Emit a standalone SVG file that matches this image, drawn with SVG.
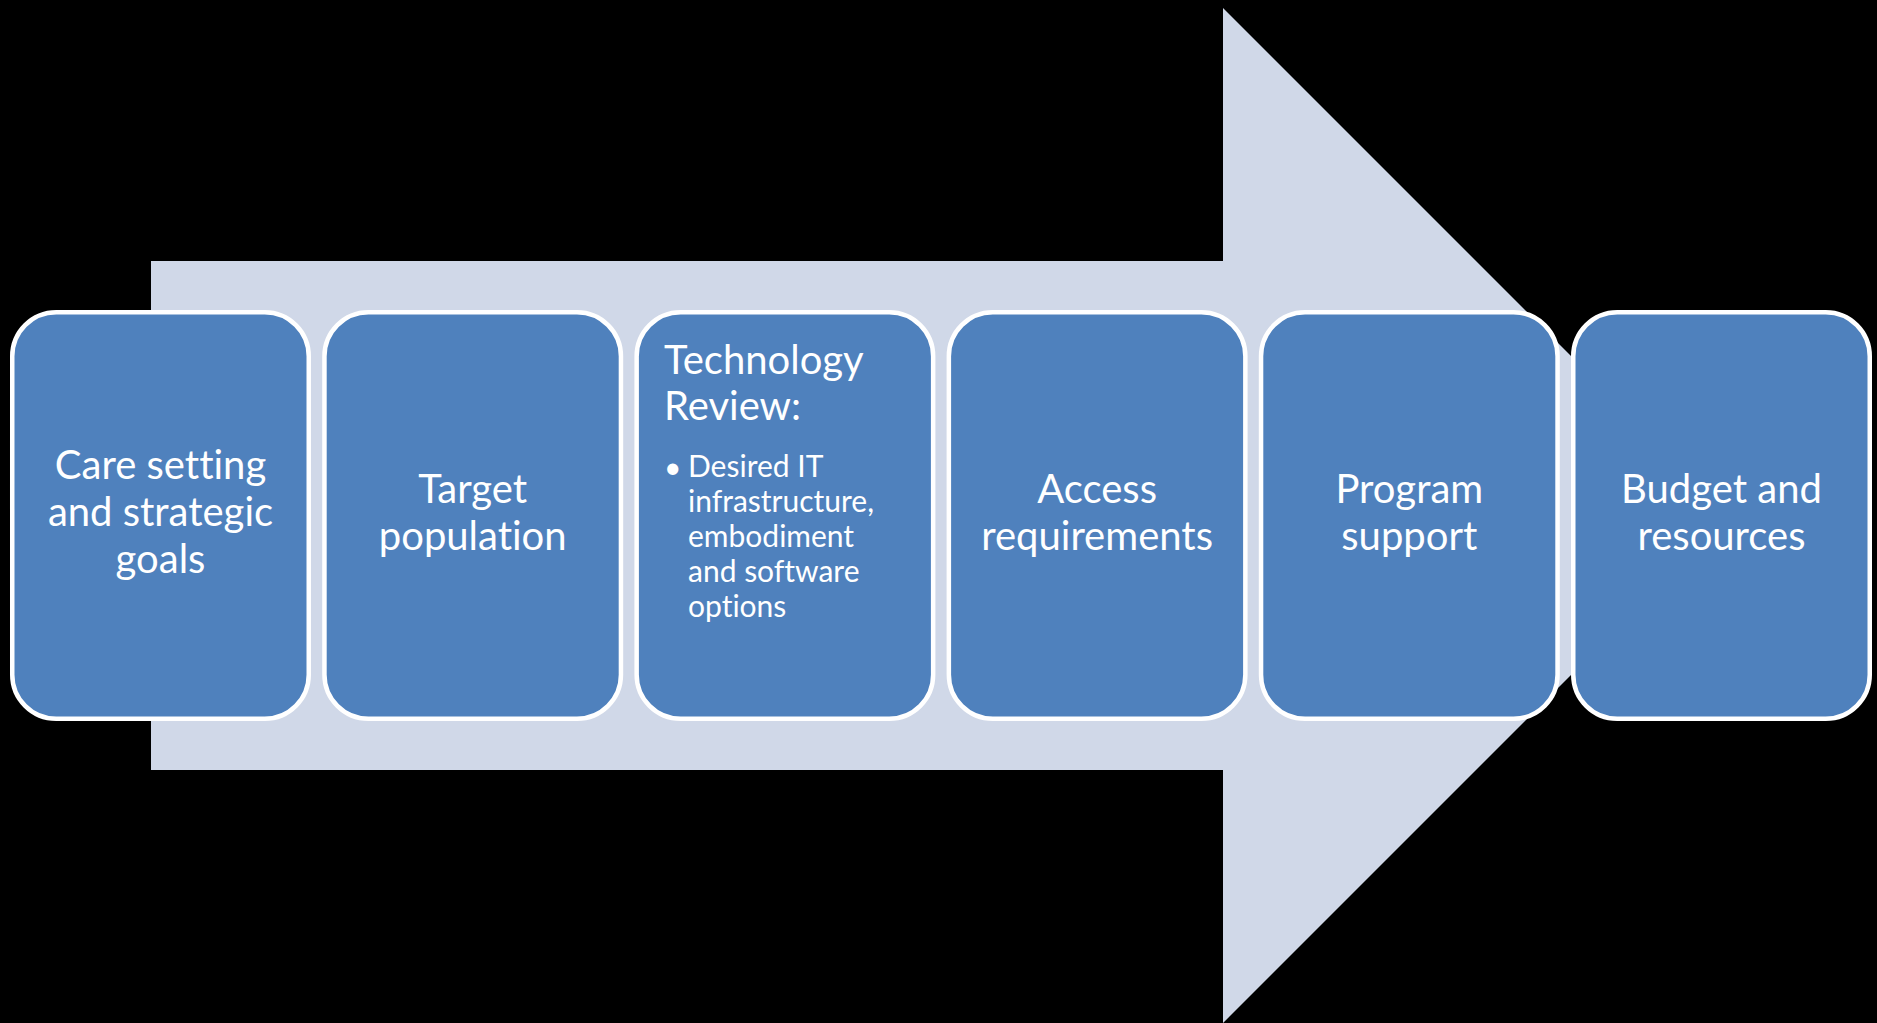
<svg xmlns="http://www.w3.org/2000/svg" width="1877" height="1023" viewBox="0 0 1877 1023">
<style>
.box{fill:#4F81BD;stroke:#FFFFFF;stroke-width:4.5}
.t{font-family:Lato,"Open Sans","Liberation Sans",sans-serif;fill:#FFFFFF;font-size:40px;font-variant-ligatures:none}
.c{text-anchor:middle}
.s{font-size:30px}
</style>
<rect x="0" y="0" width="1877" height="1023" fill="#000000"/>
<g id="arrow">
<polygon points="151,261 1223,261 1223,8 1730.5,515.5 1223,1023 1223,770 151,770" fill="#D0D8E8"/>
</g>
<g id="connectors"></g>
<g id="node1">
<rect class="box" x="12.25" y="312.25" width="296.5" height="406.5" rx="44"/>
<text class="t c" x="160.5" y="479">Care setting</text>
<text class="t c" x="160.5" y="526">and strategic</text>
<text class="t c" x="160.5" y="573">goals</text>
</g>
<g id="node2">
<rect class="box" x="324.45" y="312.25" width="296.5" height="406.5" rx="44"/>
<text class="t c" x="472.7" y="503">Target</text>
<text class="t c" x="472.7" y="550">population</text>
</g>
<g id="node3">
<rect class="box" x="636.65" y="312.25" width="296.5" height="406.5" rx="44"/>
<text class="t" x="664" y="374">Technology</text>
<text class="t" x="664" y="420">Review:</text>
<text class="t s" x="664" y="478" font-size="34px">•</text>
<text class="t s" x="688" y="477">Desired IT</text>
<text class="t s" x="688" y="512">infrastructure,</text>
<text class="t s" x="688" y="547">embodiment</text>
<text class="t s" x="688" y="582">and software</text>
<text class="t s" x="688" y="617">options</text>
</g>
<g id="node4">
<rect class="box" x="948.85" y="312.25" width="296.5" height="406.5" rx="44"/>
<text class="t c" x="1097.1" y="503">Access</text>
<text class="t c" x="1097.1" y="550">requirements</text>
</g>
<g id="node5">
<rect class="box" x="1261.05" y="312.25" width="296.5" height="406.5" rx="44"/>
<text class="t c" x="1409.3" y="503">Program</text>
<text class="t c" x="1409.3" y="550">support</text>
</g>
<g id="node6">
<rect class="box" x="1573.25" y="312.25" width="296.5" height="406.5" rx="44"/>
<text class="t c" x="1721.5" y="503">Budget and</text>
<text class="t c" x="1721.5" y="550">resources</text>
</g>
</svg>
